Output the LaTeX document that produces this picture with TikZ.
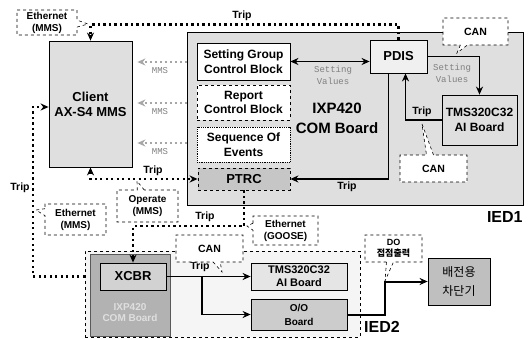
\documentclass[tikz,border=0pt]{standalone}
\usepackage{fontspec}
\setmainfont{Liberation Sans}
\setmonofont{Liberation Mono}
\newfontfamily\krfont{Noto Sans CJK KR}
\usepackage{tikz}
\usetikzlibrary{arrows.meta,shapes.callouts}

\begin{document}
\begin{tikzpicture}[x=1pt,y=-1pt,thick,
  blk/.style={draw,line width=0.8pt,inner sep=0pt,align=center,font=\bfseries\fontsize{12}{14.5}\selectfont},
  bubble/.style={rectangle callout,draw,dashed,line width=0.6pt,fill=white,inner sep=0pt,align=center,callout pointer width=7pt,font=\bfseries\fontsize{10}{12}\selectfont},
  dotline/.style={line width=2.2pt,dash pattern=on 2.2pt off 3.3pt},
  mms/.style={gray!70,line width=1.6pt,dash pattern=on 1.6pt off 3.4pt,shorten >=5pt},
  solid line/.style={line width=1.6pt},
  arr/.style={-{Stealth[length=8pt,width=7pt]}},
  arrboth/.style={{Stealth[length=8pt,width=7pt]}-{Stealth[length=8pt,width=7pt]}},
  lbl/.style={font=\bfseries\fontsize{10.5}{12}\selectfont},
  sv/.style={gray,align=center,font=\ttfamily\fontsize{9}{12}\selectfont}]
\useasboundingbox (0,0) rectangle (530,339);

% IED1
\node[draw,line width=0.8pt,fill=gray!25,minimum width=336pt,minimum height=173pt] (ied1) at (355,118.5) {};
\node[font=\bfseries\fontsize{16}{18}\selectfont,anchor=east,inner sep=0pt] (ied1lbl) at (523,217) {IED1};
\node[font=\bfseries\fontsize{15}{20}\selectfont,align=center] (ixp1) at (337,118) {IXP420\\COM Board};
\node[blk,fill=white,minimum width=93pt,minimum height=37pt] (sgcb) at (243.5,61.5) {Setting Group\\Control Block};
\node[blk,fill=white,dashed,minimum width=93pt,minimum height=35pt] (rcb) at (243.5,102.5) {Report\\Control Block};
\node[blk,fill=white,densely dotted,minimum width=93pt,minimum height=35pt] (soe) at (243.5,144.5) {Sequence Of\\Events};
\node[blk,fill=gray!45,dashed,minimum width=92pt,minimum height=22pt,font=\bfseries\fontsize{13}{15}\selectfont] (ptrc) at (244,179) {PTRC};
\node[blk,fill=gray!12,minimum width=57pt,minimum height=33pt,font=\bfseries\fontsize{13}{15}\selectfont] (pdis) at (398.5,56.5) {PDIS};
\node[blk,fill=gray!25,minimum width=75pt,minimum height=50pt] (tms1) at (479.5,120) {TMS320C32\\AI Board};

% client
\node[blk,fill=gray!25,minimum width=83pt,minimum height=126pt,font=\bfseries\fontsize{13}{15}\selectfont] (client) at (90.5,104) {Client\\AX-S4 MMS};

% IED2
\node[draw,dashed,line width=0.6pt,fill=gray!8,minimum width=275pt,minimum height=86pt] (ied2) at (222.5,294) {};
\node[font=\bfseries\fontsize{16}{18}\selectfont,inner sep=0pt] (ied2lbl) at (382,327) {IED2};
\node[draw=gray!70!black,fill=gray!60,minimum width=80pt,minimum height=82pt] (ixp2) at (130,295) {};
\node[text=gray!25,align=center,font=\bfseries\fontsize{10}{11}\selectfont] (ixp2txt) at (130,313) {IXP420\\COM Board};
\node[blk,fill=gray!35,minimum width=66pt,minimum height=27pt,font=\bfseries\fontsize{13}{15}\selectfont] (xcbr) at (133,276.5) {XCBR};
\node[blk,fill=gray!20,minimum width=96pt,minimum height=27pt,font=\bfseries\fontsize{11}{13}\selectfont] (tms2) at (299,276.5) {TMS320C32\\AI Board};
\node[blk,fill=gray!40,minimum width=96pt,minimum height=31pt,font=\bfseries\fontsize{10}{14}\selectfont] (oo) at (299,314.5) {O/O\\Board};
\node[blk,fill=gray!50,minimum width=62pt,minimum height=47pt,font=\krfont\fontsize{12}{19}\selectfont] (cb) at (459,281.5) {배전용\\차단기};

% MMS links
\foreach \yy in {62,103,143} {
  \draw[mms,arr] (ied1.west |- 0,\yy) -- (client.east |- 0,\yy);
  \node[sv] (mms\yy) at (160,\yy+9) {MMS};
}

% trip paths (Ethernet)
\draw[dotline,arr] (pdis.north) -- ++(0,-15) -| (client.north);
\node[lbl] (trip1) at (242,16) {Trip};
\draw[dotline,arrboth] (client.south) |- (ptrc.west);
\node[lbl] (trip2) at (153,171) {Trip};
\coordinate (lt) at (33,107);
\draw[dotline,arr] (xcbr.west -| ied2.west) -| (lt) -- (client.west |- lt);
\node[lbl] (trip3) at (20,188) {Trip};
\draw[dotline,arr] (ptrc.south) -- ++(0,36) -| (xcbr.north);
\node[lbl] (trip4) at (205,217) {Trip};

% inside IED1
\draw[solid line,arrboth] (sgcb.east) -- (sgcb.east -| pdis.west);
\node[sv] (sv1) at (333,75) {Setting\\Values};
\draw[solid line,arr] (pdis.east) -| (tms1.north);
\node[sv] (sv2) at (452,73) {Setting\\Values};
\draw[solid line,arr] (tms1.west) -| ([xshift=7pt]pdis.south);
\node[lbl] (trip5) at (422,112) {Trip};
\draw[solid line,arr] ([xshift=-10pt]pdis.south) |- (ptrc.east);
\node[lbl] (trip6) at (347,187) {Trip};

% inside IED2
\coordinate (br) at (202,276.5);
\draw[solid line,arr] (xcbr.east) -- (tms2.west);
\draw[solid line,arr] (br) |- (oo.west);
\node[lbl] (trip7) at (200,267) {Trip};
\draw[line width=2pt,arr] (oo.east) -- ++(38,0) |- (cb.west);

% callouts
\node[bubble,minimum width=60pt,minimum height=25pt,callout absolute pointer={(88,24)}] (eth1) at (47,22.5) {Ethernet\\(MMS)};
\node[bubble,minimum width=61pt,minimum height=32pt,callout absolute pointer={(137,181)}] (opmms) at (147.5,206) {Operate\\(MMS)};
\node[bubble,minimum width=61pt,minimum height=31pt,callout absolute pointer={(36,210)}] (eth2) at (75.5,219.5) {Ethernet\\(MMS)};
\node[bubble,minimum width=65pt,minimum height=29pt,callout absolute pointer={(247,226)}] (ethg) at (285.5,230.5) {Ethernet\\(GOOSE)};
\node[bubble,minimum width=65pt,minimum height=27pt,font=\bfseries\fontsize{10.5}{12}\selectfont,callout absolute pointer={(457,53)}] (can1) at (475.5,31.5) {CAN};
\node[bubble,minimum width=67pt,minimum height=27pt,font=\bfseries\fontsize{10.5}{12}\selectfont,callout absolute pointer={(422,124)}] (can2) at (433.5,168.5) {CAN};
\node[bubble,minimum width=67pt,minimum height=27pt,font=\bfseries\fontsize{10.5}{12}\selectfont,callout absolute pointer={(222,272)}] (can3) at (209.5,248.5) {CAN};
\node[bubble,minimum width=57pt,minimum height=27pt,font=\bfseries\fontsize{9}{11}\selectfont,callout absolute pointer={(385,281)}] (do) at (393.5,248.5) {DO\\{\krfont 접점출력}};
\end{tikzpicture}
\end{document}
